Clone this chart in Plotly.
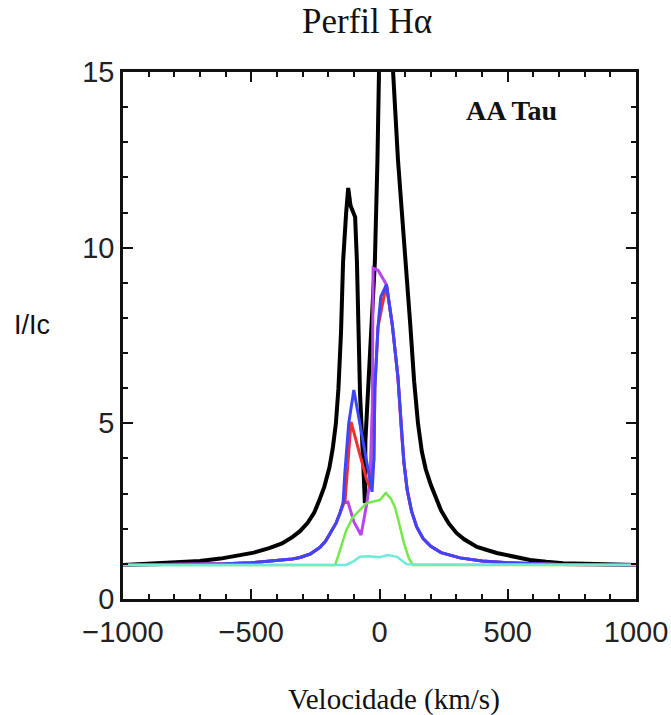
import plotly.graph_objects as go

# Black profile
v_black = [-1000, -900, -800, -700, -620, -550, -490, -430, -380, -340, -310, -280, -255, -235,
           -215, -195, -182, -170, -160, -150, -142, -130, -122, -113, -95, -88, -76, -64, -57,
           -55, -45, -30, -18, -8, -2, 10, 22, 35, 53, 72, 103, 120, 135, 150, 165, 180, 200,
           220, 240, 270, 300, 330, 380, 457, 520, 587, 650, 716, 800, 900, 1000]
i_black = [0.97, 1.0, 1.03, 1.08, 1.15, 1.24, 1.32, 1.45, 1.58, 1.76, 1.93, 2.17, 2.45, 2.8,
           3.2, 3.75, 4.3, 5.0, 6.0, 7.6, 9.6, 11.0, 11.7, 11.2, 10.87, 9.6, 5.86, 3.96, 2.73,
           4.5, 5.9, 7.7, 9.6, 12.5, 15.0, 16.2, 16.5, 16.0, 15.0, 12.5, 9.6, 7.8, 6.2, 5.0,
           4.2, 3.7, 3.25, 2.85, 2.52, 2.15, 1.88, 1.7, 1.48, 1.31, 1.2, 1.11, 1.06, 1.02, 1.0,
           0.98, 0.97]

# Magenta profile
v_mag = [-1000, -700, -600, -500, -430, -387, -340, -310, -270, -232, -210, -190, -170, -154,
         -142, -123, -100, -72, -50, -37, -28, -25, -5, 15, 27, 50, 72, 85, 95, 108, 125, 145,
         170, 200, 240, 314, 400, 500, 600, 700, 1000]
i_mag = [0.97, 0.98, 1.0, 1.03, 1.07, 1.1, 1.14, 1.18, 1.28, 1.47, 1.65, 1.9, 2.15, 2.45,
         2.73, 2.76, 2.2, 1.82, 2.7, 3.4, 5.5, 9.42, 9.35, 9.1, 8.95, 7.8, 6.3, 4.8, 3.9, 3.1,
         2.5, 2.05, 1.72, 1.5, 1.32, 1.17, 1.08, 1.03, 1.0, 0.98, 0.97]

# Red profile
v_red = [-1000, -700, -600, -500, -430, -387, -340, -310, -270, -232, -210, -190, -170, -154,
         -134, -111, -80, -50, -37, -22, -18, -6, 27, 50, 72, 85, 95, 108, 125, 145, 170, 200,
         240, 314, 400, 500, 600, 700, 1000]
i_red = [0.97, 0.98, 1.0, 1.03, 1.07, 1.1, 1.14, 1.18, 1.28, 1.47, 1.65, 1.9, 2.15, 2.45,
         2.82, 5.04, 4.2, 3.4, 3.16, 3.96, 6.0, 7.74, 8.95, 7.8, 6.3, 4.8, 3.9, 3.1, 2.5, 2.05,
         1.72, 1.5, 1.32, 1.17, 1.08, 1.03, 1.0, 0.98, 0.97]

# Blue profile
v_blue = [-1000, -700, -600, -500, -430, -387, -340, -310, -270, -232, -210, -190, -170, -154,
          -142, -135, -120, -100, -80, -50, -29, -22, -18, -6, 5, 27, 50, 72, 85, 95, 108, 125,
          145, 170, 200, 240, 314, 400, 500, 600, 700, 1000]
i_blue = [0.97, 0.98, 1.0, 1.03, 1.07, 1.1, 1.14, 1.18, 1.28, 1.47, 1.65, 1.9, 2.15, 2.45,
          2.73, 3.6, 5.0, 5.95, 5.1, 3.9, 3.05, 3.96, 6.0, 7.74, 8.6, 8.95, 7.8, 6.3, 4.8, 3.9,
          3.1, 2.5, 2.05, 1.72, 1.5, 1.32, 1.17, 1.08, 1.03, 1.0, 0.98, 0.97]

# Green profile
v_green = [-1000, -173, -160, -145, -130, -115, -107, -57, -49, 2, 21, 25, 45, 60, 75, 95,
           115, 130, 1000]
i_green = [0.97, 0.97, 1.25, 1.6, 1.95, 2.16, 2.3, 2.68, 2.73, 2.82, 3.0, 3.02, 2.85, 2.62,
           2.2, 1.6, 1.15, 0.97, 0.97]

# Cyan profile
v_cyan = [-1000, -130, -100, -76, -45, 2, 33, 68, 106, 1000]
i_cyan = [0.97, 0.97, 1.08, 1.2, 1.22, 1.19, 1.25, 1.2, 0.99, 0.97]

series = [
    (v_black, i_black, "#000000", 4),
    (v_mag, i_mag, "#b845f0", 3),
    (v_red, i_red, "#f03030", 3),
    (v_blue, i_blue, "#3c46ff", 3),
    (v_green, i_green, "#74e848", 2.5),
    (v_cyan, i_cyan, "#70ead8", 2.5),
]

fig = go.Figure()
for vx, iy, col, w in series:
    fig.add_trace(go.Scatter(x=vx, y=iy, mode="lines", line=dict(color=col, width=w),
                             showlegend=False, hoverinfo="skip"))

axis_common = dict(
    showline=True, linecolor="#111", linewidth=2.5, mirror="allticks",
    ticks="inside", ticklen=10, tickwidth=2, tickcolor="#111",
    showgrid=False, zeroline=False, automargin=False,
    tickfont=dict(family="Liberation Sans", size=29, color="#222"),
)

fig.update_layout(
    width=671, height=715,
    margin=dict(l=123, r=35, t=72, b=116),
    paper_bgcolor="white", plot_bgcolor="white",
    xaxis=dict(range=[-1000, 1000], tickvals=[-1000, -500, 0, 500, 1000],
               minor=dict(dtick=100, ticks="inside", ticklen=5, tickwidth=1.5, tickcolor="#111"),
               ticklabelstandoff=5, **axis_common),
    yaxis=dict(range=[0, 15], tickvals=[0, 5, 10, 15],
               minor=dict(dtick=1, ticks="inside", ticklen=5, tickwidth=1.5, tickcolor="#111"),
               **axis_common),
    annotations=[
        dict(text="Perfil Hα", xref="paper", yref="paper", x=0.4766, y=1.095,
             xanchor="center", yanchor="middle",
             showarrow=False, font=dict(family="Liberation Serif", size=35, color="#111")),
        dict(text="Velocidade (km/s)", xref="paper", yref="paper", x=0.528, y=-0.19,
             xanchor="center", yanchor="middle",
             showarrow=False, font=dict(family="Liberation Serif", size=29, color="#111")),
        dict(text="I/Ic", xref="paper", yref="paper", x=-0.177, y=0.52,
             xanchor="center", yanchor="middle",
             showarrow=False, font=dict(family="Liberation Sans", size=27, color="#111")),
        dict(text="<b>AA Tau</b>", xref="x", yref="y", x=513, y=13.9,
             xanchor="center", yanchor="middle",
             showarrow=False, font=dict(family="Liberation Serif", size=28, color="#111")),
    ],
)

fig.write_html("out.html")
